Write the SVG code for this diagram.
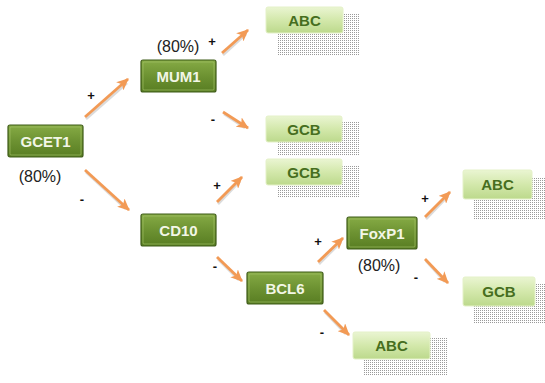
<svg xmlns="http://www.w3.org/2000/svg" width="545" height="383" viewBox="0 0 545 383">
<style>
.dark rect.b{fill:url(#gd);stroke:#3f5c18;stroke-width:1.2}
.dark rect.h{fill:none;stroke:#a9c66c;stroke-width:1;opacity:.6}
.dark text{fill:#f2f6e6;font-family:"Liberation Sans",Arial,sans-serif;font-weight:bold;font-size:15px;text-anchor:middle}
.light rect.b{fill:url(#gl);stroke:#e4f1c8;stroke-width:1}
.light rect.s{fill:url(#dots)}
.light text{fill:#466e20;font-family:"Liberation Sans",Arial,sans-serif;font-weight:bold;font-size:15px;text-anchor:middle}
.pct{fill:#222;font-family:"Liberation Sans",Arial,sans-serif;font-size:16px;text-anchor:middle}
.sg{fill:#111;font-family:"Liberation Sans",Arial,sans-serif;font-size:13px;font-weight:bold;text-anchor:middle}
#conn line.a{stroke:#f29a55;stroke-width:2.8;marker-end:url(#ah)}
#conn line.sh{stroke:#999;stroke-width:2.6;opacity:.35}
</style>
<defs>
<linearGradient id="gd" x1="0" y1="0" x2="0" y2="1">
<stop offset="0" stop-color="#86ab45"/>
<stop offset="0.5" stop-color="#6d9232"/>
<stop offset="1" stop-color="#587d22"/>
</linearGradient>
<linearGradient id="gl" x1="0" y1="0" x2="0" y2="1">
<stop offset="0" stop-color="#eaf5d2"/>
<stop offset="0.5" stop-color="#d3e8ab"/>
<stop offset="1" stop-color="#bcd98c"/>
</linearGradient>
<pattern id="dots" width="2" height="2" patternUnits="userSpaceOnUse">
<rect width="1" height="1" fill="#9a9a9a"/>
</pattern>
<marker id="ah" markerUnits="userSpaceOnUse" markerWidth="13" markerHeight="11" refX="11" refY="5.5" orient="auto">
<path d="M0,0 L12,5.5 L0,11 L3,5.5 Z" fill="#f29a55"/>
</marker>
</defs>

<g id="conn">
<line class="sh" x1="86" y1="119" x2="127" y2="83"/>
<line class="a" x1="85" y1="117" x2="128" y2="79"/>
<line class="sh" x1="86" y1="172" x2="126" y2="209"/>
<line class="a" x1="85" y1="170" x2="129" y2="210"/>
<line class="sh" x1="223" y1="55" x2="246" y2="34"/>
<line class="a" x1="222" y1="53" x2="248" y2="30"/>
<line class="sh" x1="224" y1="114" x2="245" y2="128"/>
<line class="a" x1="223" y1="112" x2="248" y2="128"/>
<line class="sh" x1="218" y1="204" x2="240" y2="181"/>
<line class="a" x1="217" y1="202" x2="242" y2="177"/>
<line class="sh" x1="218" y1="259" x2="239" y2="280"/>
<line class="a" x1="217" y1="257" x2="242" y2="281"/>
<line class="sh" x1="319" y1="264" x2="341" y2="242"/>
<line class="a" x1="318" y1="262" x2="343" y2="238"/>
<line class="sh" x1="325" y1="312" x2="346" y2="334"/>
<line class="a" x1="324" y1="310" x2="349" y2="335"/>
<line class="sh" x1="426" y1="219" x2="448" y2="196"/>
<line class="a" x1="425" y1="217" x2="450" y2="192"/>
<line class="sh" x1="426" y1="261" x2="445" y2="282"/>
<line class="a" x1="425" y1="259" x2="448" y2="283"/>
</g>

<g id="gcet1" class="dark">
<rect class="b" x="8" y="125" width="75" height="32" rx="2"/>
<rect class="h" x="10" y="127" width="71" height="28" rx="1"/>
<text x="45.5" y="146.5">GCET1</text>
</g>
<g id="mum1" class="dark">
<rect class="b" x="141" y="60" width="75" height="32" rx="2"/>
<rect class="h" x="143" y="62" width="71" height="28" rx="1"/>
<text x="178.5" y="81.5">MUM1</text>
</g>
<g id="cd10" class="dark">
<rect class="b" x="141" y="214" width="75" height="32" rx="2"/>
<rect class="h" x="143" y="216" width="71" height="28" rx="1"/>
<text x="178.5" y="235.5">CD10</text>
</g>
<g id="bcl6" class="dark">
<rect class="b" x="247" y="272" width="76" height="32" rx="2"/>
<rect class="h" x="249" y="274" width="72" height="28" rx="1"/>
<text x="285" y="293.5">BCL6</text>
</g>
<g id="foxp1" class="dark">
<rect class="b" x="347" y="217" width="70" height="32" rx="2"/>
<rect class="h" x="349" y="219" width="66" height="28" rx="1"/>
<text x="382" y="238.5">FoxP1</text>
</g>

<g id="abc1" class="light">
<rect class="s" x="277" y="13" width="82" height="42"/>
<rect class="b" x="266" y="7" width="77" height="26" rx="2"/>
<text x="304.5" y="25.5">ABC</text>
</g>
<g id="gcb1" class="light">
<rect class="s" x="277" y="122" width="83" height="33"/>
<rect class="b" x="266" y="116" width="76" height="26" rx="2"/>
<text x="304" y="134.5">GCB</text>
</g>
<g id="gcb2" class="light">
<rect class="s" x="277" y="165" width="83" height="33"/>
<rect class="b" x="266" y="159" width="76" height="26" rx="2"/>
<text x="304" y="177.5">GCB</text>
</g>
<g id="abc2" class="light">
<rect class="s" x="474" y="177" width="71" height="43"/>
<rect class="b" x="463" y="170" width="69" height="29" rx="2"/>
<text x="497.5" y="190">ABC</text>
</g>
<g id="gcb3" class="light">
<rect class="s" x="474" y="284" width="71" height="40"/>
<rect class="b" x="463" y="277" width="72" height="29" rx="2"/>
<text x="499" y="297">GCB</text>
</g>
<g id="abc3" class="light">
<rect class="s" x="364" y="338" width="84" height="37"/>
<rect class="b" x="353" y="332" width="77" height="27" rx="2"/>
<text x="391.5" y="351">ABC</text>
</g>

<g id="labels">
<text class="pct" x="40" y="182">(80%)</text>
<text class="pct" x="178" y="52">(80%)</text>
<text class="pct" x="379" y="271">(80%)</text>
<text class="sg" x="91" y="100">+</text>
<text class="sg" x="82" y="204">-</text>
<text class="sg" x="212" y="46">+</text>
<text class="sg" x="213" y="124">-</text>
<text class="sg" x="217" y="190">+</text>
<text class="sg" x="215" y="271">-</text>
<text class="sg" x="318" y="246">+</text>
<text class="sg" x="322" y="337">-</text>
<text class="sg" x="425" y="203">+</text>
<text class="sg" x="416" y="282">-</text>
</g>
</svg>
